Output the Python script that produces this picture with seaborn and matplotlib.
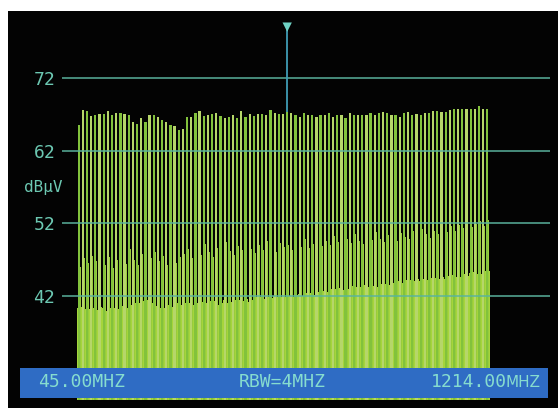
import numpy as np
import pandas as pd
import seaborn as sns
import matplotlib.pyplot as plt
from matplotlib.patches import Rectangle

# Spectrum (dBuV), one entry per carrier
peak_db = [65.5, 67.6, 67.4, 66.8, 66.9, 67.1, 67.1, 67.4, 66.9, 67.2,
           67.2, 67.1, 66.9, 66.0, 65.7, 66.5, 66.0, 66.9, 66.9, 66.7,
           66.2, 66.0, 65.6, 65.4, 64.8,
           65.0, 66.7, 66.7, 67.2, 67.4, 66.8, 66.9, 67.0, 67.2, 66.8,
           66.5, 66.7, 66.9, 66.5, 67.4, 66.6, 67.1, 66.8, 67.0, 67.1,
           66.9, 67.6, 67.2, 67.0, 67.1,
           67.3, 67.2, 66.9, 66.7, 67.2, 66.9, 66.9, 66.7, 66.9, 66.9,
           67.2, 66.7, 66.9, 66.9, 66.5, 67.2, 66.9, 66.9, 66.9, 66.9,
           67.2, 66.9, 67.2, 67.3, 67.2,
           66.9, 66.9, 66.7, 67.2, 67.3, 66.9, 67.0, 66.9, 67.2, 67.2,
           67.4, 67.4, 67.3, 67.3, 67.6, 67.8, 67.7, 67.8, 67.8, 67.7,
           67.8, 68.1, 67.8, 67.7]

shoulder_db = [46.0, 47.2, 46.5, 47.5, 46.8, 47.0, 46.2, 47.4, 45.8, 46.9,
               47.6, 46.4, 48.5, 47.0, 46.3, 47.8, 46.6, 47.2, 48.0, 46.8,
               47.5, 46.2, 47.0, 46.5, 47.3,
               47.8, 48.5, 47.2, 48.8, 47.6, 49.2, 48.0, 47.4, 48.6, 47.9,
               49.5, 48.2, 47.6, 48.9, 48.3, 49.8, 48.5, 47.9, 49.0, 48.4,
               49.6, 48.8, 48.1, 49.3, 48.7,
               49.0, 48.4, 49.5, 48.8, 49.9, 48.6, 49.2, 50.1, 48.9, 49.6,
               49.0, 50.3, 49.4, 48.8, 49.9, 49.3, 50.5, 49.6, 49.1, 50.2,
               49.7, 50.8, 49.9, 49.4, 50.4,
               50.0, 49.6, 50.7, 50.1, 49.8, 50.9, 50.3, 51.2, 50.5, 50.0,
               51.0, 50.6, 51.4, 50.8, 51.6, 51.0, 51.8, 51.3, 52.0, 51.5,
               51.9, 52.3, 51.7, 52.4]

floor_db = [40.3, 40.5, 40.2, 40.4, 40.1, 40.5, 40.3, 40.0, 40.4, 40.2,
            40.6, 39.5, 40.4, 40.8, 41.0, 41.3, 41.5, 41.2, 41.0, 40.6,
            40.4, 40.8, 40.5, 40.9, 41.0,
            40.8, 41.0, 40.7, 41.1, 40.9, 41.2, 41.0, 41.3, 40.8, 41.1,
            41.4, 41.0, 41.2, 41.5, 41.3, 41.6, 41.2, 41.5, 41.8, 41.6,
            41.9, 41.7, 42.0, 41.8, 41.9,
            42.0, 41.8, 42.1, 42.3, 42.0, 42.4, 42.2, 42.6, 42.4, 42.7,
            42.5, 42.9, 43.1, 42.8, 43.2, 43.0, 43.4, 43.2, 43.5, 43.3,
            43.6, 43.4, 43.2, 43.7, 43.5,
            43.8, 43.6, 44.0, 43.8, 44.2, 44.0, 44.3, 44.1, 44.4, 44.2,
            44.5, 44.3, 44.6, 44.4, 44.7, 44.9, 44.6, 45.0, 44.8, 45.1,
            45.3, 45.0, 45.4, 45.5]

grid_levels = [42, 52, 62, 72]
grid_labels = ["42", "52", "62", "72"]
marker_channel = 50
marker_db = 79.0
start_label = "45.00MHZ"
rbw_label = "RBW=4MHZ"
stop_value = "1214.00"
stop_unit = "MHZ"
unit_label = "dBμV"

FILL = "#a5d53c"
SHOULDER = "#98cc3c"
CARRIER_A = "#82c23c"
CARRIER_B = "#b6d66a"
TEAL = "#6cc8b2"
GRID = "#5ab49e"
BAR_BLUE = "#2f6cc4"
BAR_TEXT = "#86dccf"

sns.set_style("dark", {"axes.facecolor": "#030303"})
plt.rcParams["font.family"] = ["DejaVu Sans Mono", "DejaVu Sans"]

fig = plt.figure(figsize=(5.58, 4.08), dpi=100, facecolor="white")
ax = fig.add_axes([8 / 558, 0, 550 / 558, 397 / 408])

chan = np.arange(len(peak_db))
df = pd.DataFrame({"chan": chan, "peak": peak_db,
                   "shoulder": shoulder_db, "floor": floor_db})
even = df[df.chan % 2 == 0]
odd = df[df.chan % 2 == 1]

common = dict(native_scale=True, orient="x", saturation=1,
              errorbar=None, linewidth=0, ax=ax)

# noise floor, sidebands, then the carriers on top
# (width is relative to the spacing of each call's x values)
sns.barplot(x=df.chan + 0.1, y=df.floor, width=1.0, color=FILL, **common)
sns.barplot(x=df.chan + 0.37, y=df.shoulder, width=0.2, color=SHOULDER, **common)
sns.barplot(x=even.chan, y=even.peak, width=0.27, color=CARRIER_A, **common)
sns.barplot(x=odd.chan, y=odd.peak, width=0.27, color=CARRIER_B, **common)

ax.set_xlim(-16.95, 114.94)
ax.set_ylim(26.59, 81.22)

# grid lines
ax.hlines(grid_levels, 0.098, 0.9855, transform=ax.get_yaxis_transform(),
          colors=GRID, lw=1.2, alpha=0.9, zorder=3)

# marker
ax.vlines(marker_channel, peak_db[marker_channel], marker_db,
          colors="#3f9cb6", lw=1.3, zorder=4)
sns.scatterplot(x=[marker_channel], y=[marker_db], marker="v", s=45,
                color="#6fd2c4", edgecolor="none", zorder=5, ax=ax)

# y labels inside the screen
ax.set_yticks(grid_levels)
ax.set_yticklabels(grid_labels)
ax.tick_params(axis="y", length=0, pad=-34, labelcolor=TEAL, labelsize=13)
ax.set_xticks([])
ax.set_xlabel("")
ax.set_ylabel("")
ax.grid(False)
for s in ax.spines.values():
    s.set_visible(False)

ax.text(0.0636, 57.0, unit_label, transform=ax.get_yaxis_transform(),
        ha="center", va="center", color=TEAL, fontsize=11.5)

# bottom status bar
ax.add_patch(Rectangle((0, 0), 1, 0.0214, transform=ax.transAxes,
                       facecolor="#030303", edgecolor="none", zorder=6))
ax.add_patch(Rectangle((0.0218, 0.0252), 0.96, 0.0756, transform=ax.transAxes,
                       facecolor=BAR_BLUE, edgecolor="none", zorder=7))
ax.text(0.0545, 0.066, start_label, transform=ax.transAxes, ha="left",
        va="center", color=BAR_TEXT, fontsize=13, zorder=8)
ax.text(0.498, 0.066, rbw_label, transform=ax.transAxes, ha="center",
        va="center", color=BAR_TEXT, fontsize=13, zorder=8)
ax.text(0.969, 0.064, stop_unit, transform=ax.transAxes, ha="right",
        va="center", color=BAR_TEXT, fontsize=11, family="DejaVu Sans",
        zorder=8)
ax.text(0.907, 0.066, stop_value, transform=ax.transAxes, ha="right",
        va="center", color=BAR_TEXT, fontsize=13, zorder=8)

fig.savefig("out.png", dpi=100, facecolor="white")
